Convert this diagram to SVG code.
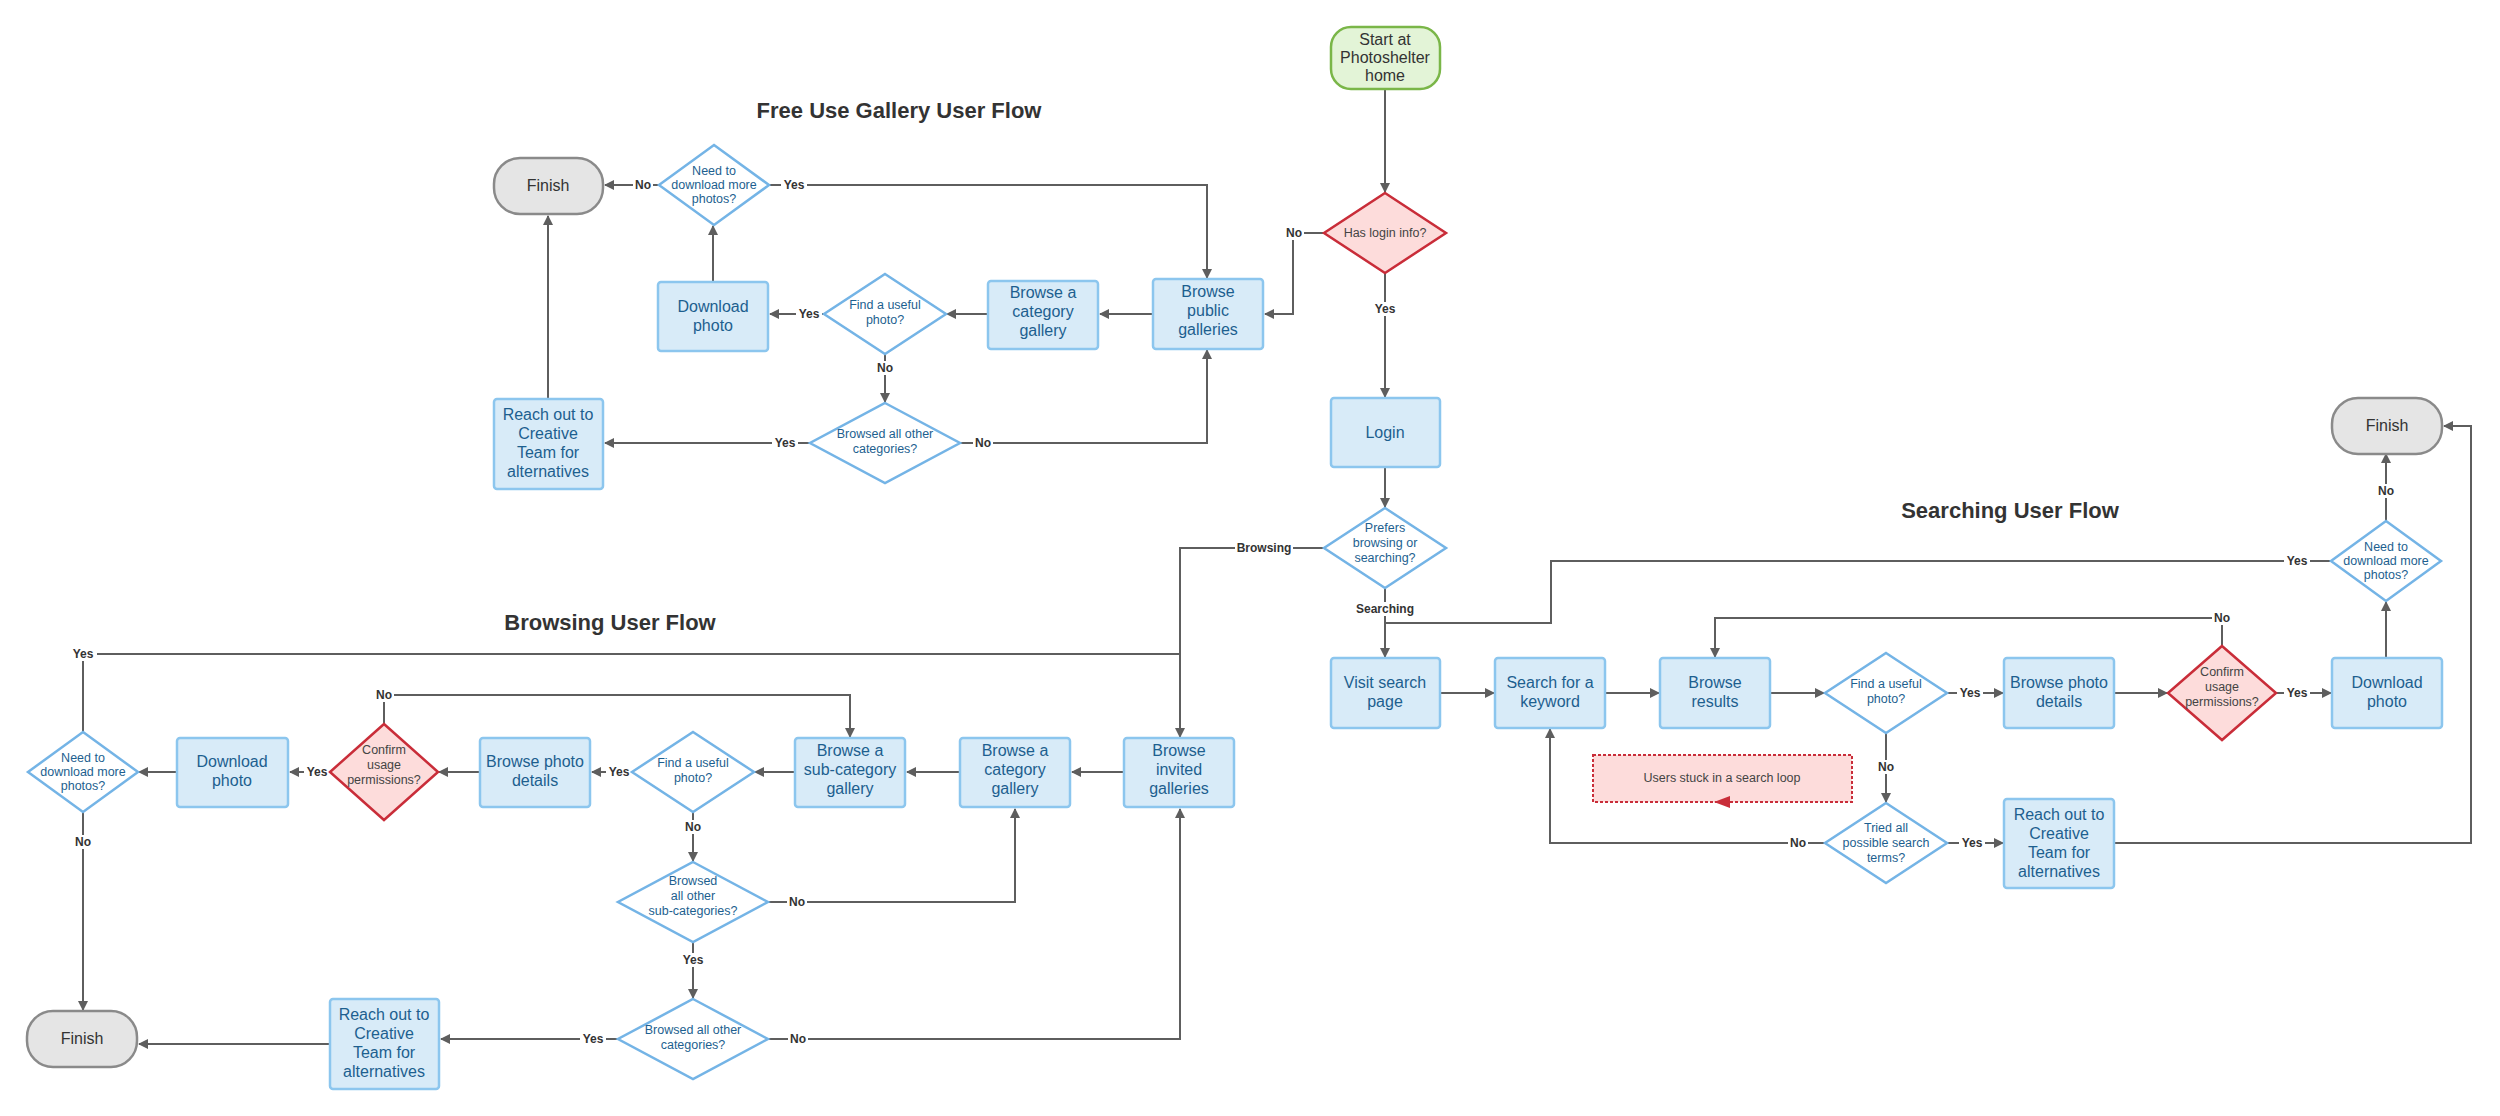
<svg xmlns="http://www.w3.org/2000/svg" width="2500" height="1116" viewBox="0 0 2500 1116">
<style>
text{font-family:"Liberation Sans",Arial,sans-serif;text-anchor:middle}
.b{fill:#d8ebf8;stroke:#8cc6ee;stroke-width:2.5}
.d{fill:#fff;stroke:#74b4e6;stroke-width:2.5}
.r{fill:#fddcdb;stroke:#c92d39;stroke-width:2.5}
.f{fill:#e5e5e5;stroke:#8a8a8a;stroke-width:2.5}
.s{fill:#e3f4d7;stroke:#7ab648;stroke-width:2.5}
.t{font-size:16px;fill:#1d5f8f}
.dt{font-size:12.5px;fill:#1d5f8f}
.rt{font-size:12.5px;fill:#444}
.ft{font-size:16px;fill:#333}
.h{font-size:22px;font-weight:bold;fill:#333}
.l{font-size:12px;font-weight:bold;fill:#333}
.c path{fill:none;stroke:#5e5e5e;stroke-width:2}
.lb{fill:#fff}
</style>
<defs>
<marker id="a" viewBox="0 0 10 10" refX="9" refY="5" markerWidth="10" markerHeight="10" orient="auto" markerUnits="userSpaceOnUse"><path d="M0,0L10,5L0,10z" fill="#5e5e5e"/></marker>
</defs>
<text class="h" x="899" y="118">Free Use Gallery User Flow</text>
<text class="h" x="610" y="630">Browsing User Flow</text>
<text class="h" x="2010" y="518">Searching User Flow</text>

<g class="c">
<path d="M1385,89V192" marker-end="url(#a)"/>
<path d="M1385,273V397" marker-end="url(#a)"/>
<path d="M1324,233H1293V314H1265" marker-end="url(#a)"/>
<path d="M1385,467V507" marker-end="url(#a)"/>
<path d="M1385,588V657" marker-end="url(#a)"/>
<path d="M1153,314H1100" marker-end="url(#a)"/>
<path d="M988,314H947" marker-end="url(#a)"/>
<path d="M824,314H770" marker-end="url(#a)"/>
<path d="M713,282V226" marker-end="url(#a)"/>
<path d="M659,185H605" marker-end="url(#a)"/>
<path d="M769,185H1207V278" marker-end="url(#a)"/>
<path d="M885,354V402" marker-end="url(#a)"/>
<path d="M810,443H605" marker-end="url(#a)"/>
<path d="M960,443H1207V350" marker-end="url(#a)"/>
<path d="M548,399V216" marker-end="url(#a)"/>
<path d="M1324,548H1180V737" marker-end="url(#a)"/>
<path d="M1124,772H1072" marker-end="url(#a)"/>
<path d="M960,772H907" marker-end="url(#a)"/>
<path d="M795,772H755" marker-end="url(#a)"/>
<path d="M632,772H592" marker-end="url(#a)"/>
<path d="M480,772H439" marker-end="url(#a)"/>
<path d="M330,772H290" marker-end="url(#a)"/>
<path d="M177,772H139" marker-end="url(#a)"/>
<path d="M83,732V654H1180" />
<path d="M384,724V695H850V737" marker-end="url(#a)"/>
<path d="M693,812V861" marker-end="url(#a)"/>
<path d="M768,902H1015V809" marker-end="url(#a)"/>
<path d="M693,942V998" marker-end="url(#a)"/>
<path d="M768,1039H1180V809" marker-end="url(#a)"/>
<path d="M618,1039H441" marker-end="url(#a)"/>
<path d="M330,1044H139" marker-end="url(#a)"/>
<path d="M83,812V1010" marker-end="url(#a)"/>
<path d="M1440,693H1494" marker-end="url(#a)"/>
<path d="M1605,693H1659" marker-end="url(#a)"/>
<path d="M1770,693H1824" marker-end="url(#a)"/>
<path d="M1947,693H2003" marker-end="url(#a)"/>
<path d="M2114,693H2167" marker-end="url(#a)"/>
<path d="M2276,693H2331" marker-end="url(#a)"/>
<path d="M2386,658V602" marker-end="url(#a)"/>
<path d="M2386,521V454" marker-end="url(#a)"/>
<path d="M2331,561H1551V623H1385"/>
<path d="M2222,646V618H1715V657" marker-end="url(#a)"/>
<path d="M1886,733V802" marker-end="url(#a)"/>
<path d="M1825,843H1550V729" marker-end="url(#a)"/>
<path d="M1947,843H2003" marker-end="url(#a)"/>
<path d="M2114,843H2471V426H2444" marker-end="url(#a)"/>
</g>

<g id="labels">
<rect class="lb" x="1372" y="302" width="26" height="14"/><text class="l" x="1385" y="313">Yes</text>
<rect class="lb" x="1282" y="226" width="22" height="14"/><text class="l" x="1294" y="237">No</text>
<rect class="lb" x="633" y="178" width="20" height="14"/><text class="l" x="643" y="189">No</text>
<rect class="lb" x="781" y="178" width="26" height="14"/><text class="l" x="794" y="189">Yes</text>
<rect class="lb" x="796" y="307" width="26" height="14"/><text class="l" x="809" y="318">Yes</text>
<rect class="lb" x="875" y="361" width="20" height="14"/><text class="l" x="885" y="372">No</text>
<rect class="lb" x="772" y="436" width="26" height="14"/><text class="l" x="785" y="447">Yes</text>
<rect class="lb" x="973" y="436" width="20" height="14"/><text class="l" x="983" y="447">No</text>
<rect class="lb" x="1235" y="541" width="58" height="14"/><text class="l" x="1264" y="552">Browsing</text>
<rect class="lb" x="1355" y="602" width="60" height="14"/><text class="l" x="1385" y="613">Searching</text>
<rect class="lb" x="69" y="647" width="28" height="14"/><text class="l" x="83" y="658">Yes</text>
<rect class="lb" x="374" y="688" width="20" height="14"/><text class="l" x="384" y="699">No</text>
<rect class="lb" x="606" y="765" width="26" height="14"/><text class="l" x="619" y="776">Yes</text>
<rect class="lb" x="304" y="765" width="26" height="14"/><text class="l" x="317" y="776">Yes</text>
<rect class="lb" x="683" y="820" width="20" height="14"/><text class="l" x="693" y="831">No</text>
<rect class="lb" x="73" y="835" width="20" height="14"/><text class="l" x="83" y="846">No</text>
<rect class="lb" x="787" y="895" width="20" height="14"/><text class="l" x="797" y="906">No</text>
<rect class="lb" x="680" y="953" width="26" height="14"/><text class="l" x="693" y="964">Yes</text>
<rect class="lb" x="580" y="1032" width="26" height="14"/><text class="l" x="593" y="1043">Yes</text>
<rect class="lb" x="788" y="1032" width="20" height="14"/><text class="l" x="798" y="1043">No</text>
<rect class="lb" x="1957" y="686" width="26" height="14"/><text class="l" x="1970" y="697">Yes</text>
<rect class="lb" x="2284" y="686" width="26" height="14"/><text class="l" x="2297" y="697">Yes</text>
<rect class="lb" x="2284" y="554" width="26" height="14"/><text class="l" x="2297" y="565">Yes</text>
<rect class="lb" x="2376" y="484" width="20" height="14"/><text class="l" x="2386" y="495">No</text>
<rect class="lb" x="2212" y="611" width="20" height="14"/><text class="l" x="2222" y="622">No</text>
<rect class="lb" x="1876" y="760" width="20" height="14"/><text class="l" x="1886" y="771">No</text>
<rect class="lb" x="1788" y="836" width="20" height="14"/><text class="l" x="1798" y="847">No</text>
<rect class="lb" x="1959" y="836" width="26" height="14"/><text class="l" x="1972" y="847">Yes</text>
</g>

<g id="start"><rect class="s" x="1331" y="27" width="109" height="62" rx="20"/><text class="ft" x="1385" y="45">Start at</text><text class="ft" x="1385" y="63">Photoshelter</text><text class="ft" x="1385" y="81">home</text></g>
<g id="haslogin"><path class="r" d="M1385,193L1446,233L1385,273L1324,233z"/><text class="rt" x="1385" y="237">Has login info?</text></g>
<g id="login"><rect class="b" x="1331" y="398" width="109" height="69" rx="3"/><text class="t" x="1385" y="438">Login</text></g>
<g id="prefers"><path class="d" d="M1385,508L1446,548L1385,588L1324,548z"/><text class="dt" x="1385" y="532">Prefers</text><text class="dt" x="1385" y="547">browsing or</text><text class="dt" x="1385" y="562">searching?</text></g>

<g id="fu-galleries"><rect class="b" x="1153" y="279" width="110" height="70" rx="3"/><text class="t" x="1208" y="297">Browse</text><text class="t" x="1208" y="316">public</text><text class="t" x="1208" y="335">galleries</text></g>
<g id="fu-category"><rect class="b" x="988" y="281" width="110" height="68" rx="3"/><text class="t" x="1043" y="298">Browse a</text><text class="t" x="1043" y="317">category</text><text class="t" x="1043" y="336">gallery</text></g>
<g id="fu-find"><path class="d" d="M885,274L946,314L885,354L824,314z"/><text class="dt" x="885" y="309">Find a useful</text><text class="dt" x="885" y="324">photo?</text></g>
<g id="fu-download"><rect class="b" x="658" y="282" width="110" height="69" rx="3"/><text class="t" x="713" y="312">Download</text><text class="t" x="713" y="331">photo</text></g>
<g id="fu-need"><path class="d" d="M714,145L769,185L714,225L659,185z"/><text class="dt" x="714" y="175">Need to</text><text class="dt" x="714" y="189">download more</text><text class="dt" x="714" y="203">photos?</text></g>
<g id="fu-finish"><rect class="f" x="494" y="158" width="109" height="56" rx="26"/><text class="ft" x="548" y="191">Finish</text></g>
<g id="fu-reach"><rect class="b" x="494" y="399" width="109" height="90" rx="3"/><text class="t" x="548" y="420">Reach out to</text><text class="t" x="548" y="439">Creative</text><text class="t" x="548" y="458">Team for</text><text class="t" x="548" y="477">alternatives</text></g>
<g id="fu-browsed"><path class="d" d="M885,403L960,443L885,483L810,443z"/><text class="dt" x="885" y="438">Browsed all other</text><text class="dt" x="885" y="453">categories?</text></g>

<g id="br-invited"><rect class="b" x="1124" y="738" width="110" height="69" rx="3"/><text class="t" x="1179" y="756">Browse</text><text class="t" x="1179" y="775">invited</text><text class="t" x="1179" y="794">galleries</text></g>
<g id="br-category"><rect class="b" x="960" y="738" width="110" height="69" rx="3"/><text class="t" x="1015" y="756">Browse a</text><text class="t" x="1015" y="775">category</text><text class="t" x="1015" y="794">gallery</text></g>
<g id="br-subcat"><rect class="b" x="795" y="738" width="110" height="69" rx="3"/><text class="t" x="850" y="756">Browse a</text><text class="t" x="850" y="775">sub-category</text><text class="t" x="850" y="794">gallery</text></g>
<g id="br-find"><path class="d" d="M693,732L754,772L693,812L632,772z"/><text class="dt" x="693" y="767">Find a useful</text><text class="dt" x="693" y="782">photo?</text></g>
<g id="br-details"><rect class="b" x="480" y="738" width="110" height="69" rx="3"/><text class="t" x="535" y="767">Browse photo</text><text class="t" x="535" y="786">details</text></g>
<g id="br-confirm"><path class="r" d="M384,724L438,772L384,820L330,772z"/><text class="rt" x="384" y="754">Confirm</text><text class="rt" x="384" y="769">usage</text><text class="rt" x="384" y="784">permissions?</text></g>
<g id="br-download"><rect class="b" x="177" y="738" width="111" height="69" rx="3"/><text class="t" x="232" y="767">Download</text><text class="t" x="232" y="786">photo</text></g>
<g id="br-need"><path class="d" d="M83,732L138,772L83,812L28,772z"/><text class="dt" x="83" y="762">Need to</text><text class="dt" x="83" y="776">download more</text><text class="dt" x="83" y="790">photos?</text></g>
<g id="br-subbrowsed"><path class="d" d="M693,862L768,902L693,942L618,902z"/><text class="dt" x="693" y="885">Browsed</text><text class="dt" x="693" y="900">all other</text><text class="dt" x="693" y="915">sub-categories?</text></g>
<g id="br-browsed"><path class="d" d="M693,999L768,1039L693,1079L618,1039z"/><text class="dt" x="693" y="1034">Browsed all other</text><text class="dt" x="693" y="1049">categories?</text></g>
<g id="br-reach"><rect class="b" x="330" y="999" width="109" height="90" rx="3"/><text class="t" x="384" y="1020">Reach out to</text><text class="t" x="384" y="1039">Creative</text><text class="t" x="384" y="1058">Team for</text><text class="t" x="384" y="1077">alternatives</text></g>
<g id="br-finish"><rect class="f" x="27" y="1011" width="110" height="56" rx="26"/><text class="ft" x="82" y="1044">Finish</text></g>

<g id="se-visit"><rect class="b" x="1331" y="658" width="109" height="70" rx="3"/><text class="t" x="1385" y="688">Visit search</text><text class="t" x="1385" y="707">page</text></g>
<g id="se-keyword"><rect class="b" x="1495" y="658" width="110" height="70" rx="3"/><text class="t" x="1550" y="688">Search for a</text><text class="t" x="1550" y="707">keyword</text></g>
<g id="se-results"><rect class="b" x="1660" y="658" width="110" height="70" rx="3"/><text class="t" x="1715" y="688">Browse</text><text class="t" x="1715" y="707">results</text></g>
<g id="se-find"><path class="d" d="M1886,653L1947,693L1886,733L1825,693z"/><text class="dt" x="1886" y="688">Find a useful</text><text class="dt" x="1886" y="703">photo?</text></g>
<g id="se-details"><rect class="b" x="2004" y="658" width="110" height="70" rx="3"/><text class="t" x="2059" y="688">Browse photo</text><text class="t" x="2059" y="707">details</text></g>
<g id="se-confirm"><path class="r" d="M2222,646L2276,693L2222,740L2168,693z"/><text class="rt" x="2222" y="676">Confirm</text><text class="rt" x="2222" y="691">usage</text><text class="rt" x="2222" y="706">permissions?</text></g>
<g id="se-download"><rect class="b" x="2332" y="658" width="110" height="70" rx="3"/><text class="t" x="2387" y="688">Download</text><text class="t" x="2387" y="707">photo</text></g>
<g id="se-need"><path class="d" d="M2386,521L2441,561L2386,601L2331,561z"/><text class="dt" x="2386" y="551">Need to</text><text class="dt" x="2386" y="565">download more</text><text class="dt" x="2386" y="579">photos?</text></g>
<g id="se-finish"><rect class="f" x="2332" y="398" width="110" height="56" rx="26"/><text class="ft" x="2387" y="431">Finish</text></g>
<g id="se-tried"><path class="d" d="M1886,803L1947,843L1886,883L1825,843z"/><text class="dt" x="1886" y="832">Tried all</text><text class="dt" x="1886" y="847">possible search</text><text class="dt" x="1886" y="862">terms?</text></g>
<g id="se-reach"><rect class="b" x="2004" y="799" width="110" height="89" rx="3"/><text class="t" x="2059" y="820">Reach out to</text><text class="t" x="2059" y="839">Creative</text><text class="t" x="2059" y="858">Team for</text><text class="t" x="2059" y="877">alternatives</text></g>
<g id="se-stuck"><rect x="1593" y="755" width="259" height="47" fill="#fddcdb" stroke="#c92d39" stroke-width="2" stroke-dasharray="3,2"/><text class="rt" x="1722" y="782">Users stuck in a search loop</text><path d="M1730,796L1714,802L1730,808z" fill="#c92d39"/></g>
</svg>
